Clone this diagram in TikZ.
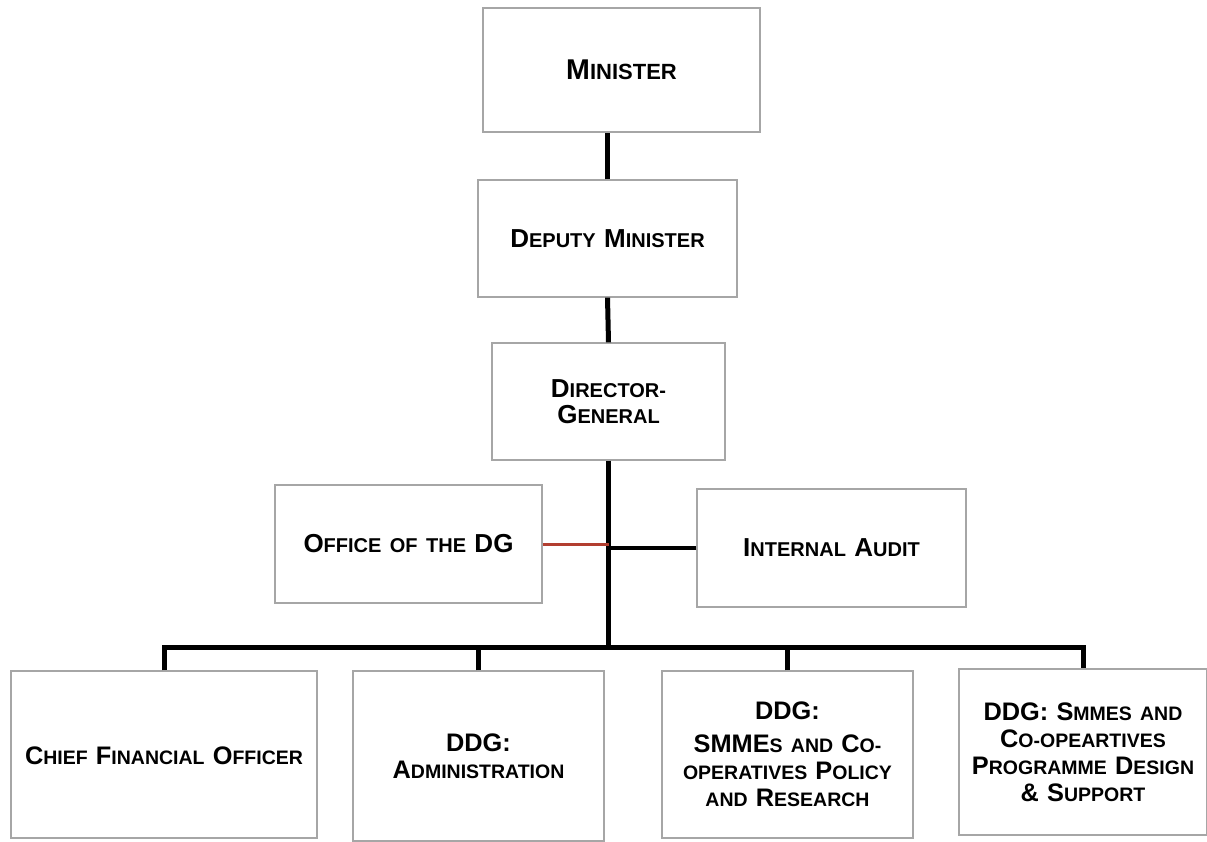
\documentclass[tikz,border=0pt]{standalone}
\usepackage{fontspec}
\setmainfont{Liberation Sans}
\usepackage{graphicx}
\definecolor{linkred}{RGB}{178,62,48}
\newcommand{\Bg}[1]{\scalebox{1.3}{#1}}

\begin{document}
\begin{tikzpicture}[x=1pt,y=-1pt,main box/.style={rectangle,draw=black!35,line width=1.2pt,inner sep=0pt,align=center,font={\bfseries\fontsize{20}{26}\selectfont\spaceskip=.42em\relax}},low box/.style={main box,font={\bfseries\fontsize{19.5}{27}\selectfont\spaceskip=.42em\relax}},link/.style={line width=5pt}]
  \useasboundingbox (0,0) rectangle (1207,841);
  \node[main box,minimum width=277pt,minimum height=124pt,font=\bfseries\fontsize{22}{28}\selectfont] (min) at (621.5,70) {\Bg{M}INISTER};
  \node[main box,minimum width=259pt,minimum height=117pt] (dep) at (607.5,238.5) {\Bg{D}EPUTY \Bg{M}INISTER};
  \node[main box,minimum width=233pt,minimum height=117pt] (dg) at (608.5,401.5) {\Bg{D}IRECTOR-\\\Bg{G}ENERAL};
  \node[main box,minimum width=267pt,minimum height=118pt] (office) at (408.5,544) {\Bg{O}FFICE OF THE \Bg{DG}};
  \node[main box,minimum width=269pt,minimum height=118pt] (audit) at (831.5,548) {\Bg{I}NTERNAL \Bg{A}UDIT};
  \node[low box,minimum width=306pt,minimum height=167pt] (cfo) at (164,754.5) {\raisebox{-20pt}{\Bg{C}HIEF \Bg{F}INANCIAL \Bg{O}FFICER}};
  \node[low box,minimum width=251pt,minimum height=170pt] (adm) at (478.5,756) {\Bg{DDG:}\\\Bg{A}DMINISTRATION};
  \node[low box,minimum width=251pt,minimum height=167pt] (pol) at (787.5,754.5) {\Bg{DDG:}\\[6pt]\Bg{SMME}S AND \Bg{C}O-\\OPERATIVES \Bg{P}OLICY\\AND \Bg{R}ESEARCH};
  \node[low box,minimum width=248pt,minimum height=166pt] (prog) at (1083,752) {\Bg{DDG:} \Bg{S}MMES AND\\\Bg{C}O-OPEARTIVES\\\Bg{P}ROGRAMME \Bg{D}ESIGN\\\Bg{\&} \Bg{S}UPPORT};
  \coordinate (bus) at (608.5,647);

  \draw[link] (dep.north) -- (dep.north |- min.south);
  \draw[link] (dg.north) -- (dep.south);
  \draw[link] (dg.south) -- (bus);
  \draw[linkred,line width=3pt] (office.east) -- (office.east -| bus);
  \draw[link,line width=4pt] (audit.west) -- (audit.west -| bus);
  \draw[link] (cfo.north) -- (cfo.north |- bus) -- (prog.north |- bus) -- (prog.north);
  \draw[link] (adm.north) -- (adm.north |- bus);
  \draw[link] (pol.north) -- (pol.north |- bus);
\end{tikzpicture}
\end{document}
